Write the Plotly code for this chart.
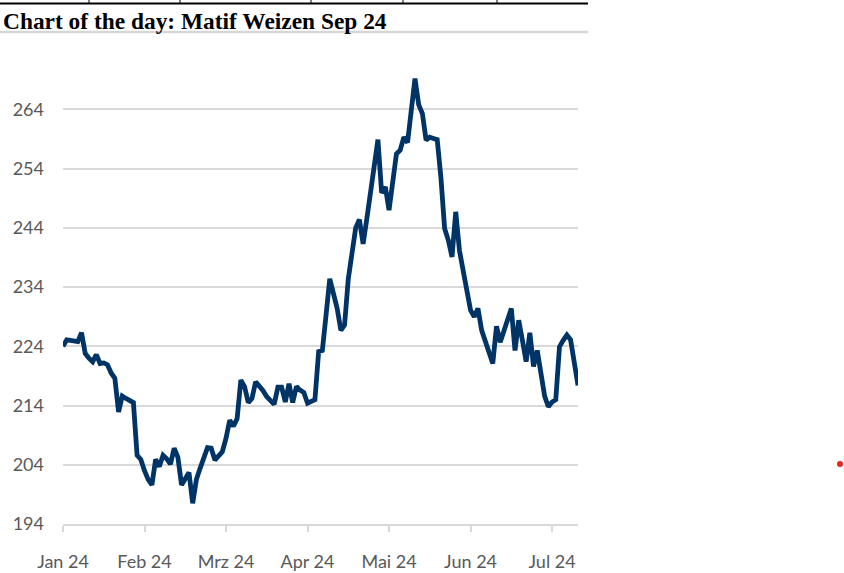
import plotly.graph_objects as go

# ---- data ----
title_text = "Chart of the day: Matif Weizen Sep 24"
month_labels = ["Jan 24", "Feb 24", "Mrz 24", "Apr 24", "Mai 24", "Jun 24", "Jul 24"]
points_per_label = 22
y_ticks = [194, 204, 214, 224, 234, 244, 254, 264]
prices = [
    224.0, 225.1, 225.0, 224.9, 224.8, 226.3, 222.8, 222.0, 221.4, 222.6,
    221.1, 221.2, 220.9, 219.5, 218.6, 212.9, 215.6, 215.2, 214.9, 214.5,
    205.6, 204.9, 203.0, 201.5, 200.6, 204.9, 203.7, 205.6, 205.0, 204.1,
    206.8, 205.3, 200.6, 201.8, 202.7, 197.5, 201.5, 203.4, 205.2, 206.9,
    206.8, 204.8, 205.5, 206.2, 208.5, 211.5, 210.5, 211.8, 218.3, 217.2,
    214.5, 215.2, 218.0, 217.3, 216.5, 215.5, 214.9, 214.2, 217.1, 217.1,
    214.6, 217.7, 214.5, 217.2, 216.6, 216.2, 214.4, 214.8, 215.0, 223.1,
    223.3, 229.3, 235.4, 232.9, 230.4, 226.7, 227.6, 235.4, 240.0, 244.0,
    245.4, 241.3, 245.5, 250.3, 254.0, 258.9, 249.9, 250.9, 247.0, 252.0,
    256.5, 257.1, 259.3, 258.4, 263.5, 269.2, 264.8, 263.3, 258.8, 259.3,
    259.1, 258.9, 252.5, 243.9, 241.9, 239.1, 246.7, 240.2, 236.8, 233.5,
    230.1, 229.0, 230.4, 226.7, 224.7, 223.1, 221.1, 227.4, 224.7, 226.6,
    228.5, 230.4, 223.3, 228.4, 225.0, 221.4, 226.3, 220.6, 223.3, 218.8,
    215.6, 213.8, 214.6, 215.0, 223.9, 225.0, 225.9, 225.1, 221.1, 217.4,
]

x_idx = list(range(len(prices)))
tick_positions = [i * points_per_label for i in range(len(month_labels))]

# ---- layout geometry (pixels) ----
W, H = 844, 573
L, R, T, B = 63, 266, 62, 49
PW, PH = W - L - R, H - T - B


def px(xp):
    return (xp - L) / PW


def py(yp):
    return (H - B - yp) / PH


GRID = "#d9d9d9"
LINE = "#003466"
LABEL = "#595959"

fig = go.Figure()
fig.add_trace(go.Scatter(
    x=x_idx, y=prices, mode="lines",
    line=dict(color=LINE, width=4.8, shape="linear"),
    hoverinfo="y", showlegend=False,
))

shapes = [
    # top black rule with table cell separators
    dict(type="line", xref="paper", yref="paper", x0=px(0), x1=px(588), y0=py(3.5), y1=py(3.5),
         line=dict(color="#000000", width=2)),
    # grey underline below the title
    dict(type="line", xref="paper", yref="paper", x0=px(0), x1=px(588), y0=py(32), y1=py(32),
         line=dict(color="#d6d6d6", width=2.5)),
    # red dot on the right
    dict(type="circle", xref="paper", yref="paper", x0=px(837), x1=px(843), y0=py(461), y1=py(467),
         fillcolor="#e8261f", line=dict(width=0)),
]
for sx in [89, 180, 311, 403, 497]:
    shapes.append(dict(type="line", xref="paper", yref="paper", x0=px(sx), x1=px(sx),
                       y0=py(0), y1=py(3.5), line=dict(color="#000000", width=1)))

fig.update_layout(
    width=W, height=H,
    margin=dict(l=L, r=R, t=T, b=B, pad=0, autoexpand=False),
    paper_bgcolor="white", plot_bgcolor="white",
    title=dict(text="<b>" + title_text + "</b>", x=3 / W, xanchor="left",
               y=1 - 21 / H, yanchor="middle",
               font=dict(family="Liberation Serif, Times New Roman, serif", size=23.4, color="#000000")),
    shapes=shapes,
    xaxis=dict(
        range=[0, len(prices) - 1],
        tickmode="array", tickvals=tick_positions, ticktext=month_labels,
        showgrid=False, zeroline=False,
        showline=True, linecolor=GRID, linewidth=2,
        ticks="outside", ticklen=6, tickcolor=GRID, tickwidth=1.5,
        ticklabelstandoff=14, automargin=False,
        tickfont=dict(family="Lato, Carlito, Calibri, sans-serif", size=18, color=LABEL),
        fixedrange=True,
    ),
    yaxis=dict(
        range=[194, 272],
        tickmode="array", tickvals=y_ticks,
        showgrid=True, gridcolor=GRID, gridwidth=2,
        zeroline=False, showline=False, ticks="",
        ticklabelstandoff=18, automargin=False,
        tickfont=dict(family="Lato, Carlito, Calibri, sans-serif", size=18, color=LABEL),
        fixedrange=True,
    ),
)

fig.write_html("out.html", config={"displayModeBar": False})

# remove the browser's default page margin so the figure sits at (0, 0)
with open("out.html", "r", encoding="utf-8") as f:
    html = f.read()
html = html.replace("<head>", "<head><style>html,body{margin:0;padding:0;overflow:hidden;}</style>", 1)
with open("out.html", "w", encoding="utf-8") as f:
    f.write(html)
